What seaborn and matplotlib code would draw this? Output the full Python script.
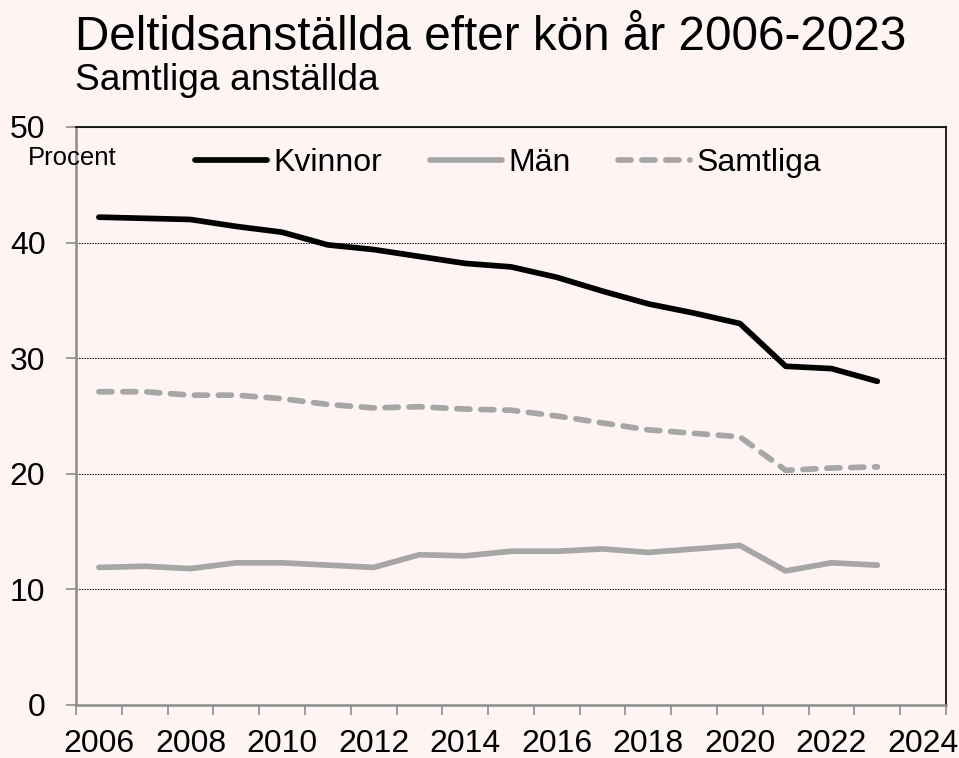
import numpy as np
import pandas as pd
import seaborn as sns
import matplotlib.pyplot as plt
from matplotlib.ticker import FixedLocator, NullFormatter

# Data -------------------------------------------------------------------------
ar = list(range(2006, 2024))
kvinnor = [42.2, 42.1, 42.0, 41.4, 40.9, 39.8, 39.4, 38.8, 38.2, 37.9,
           37.0, 35.8, 34.7, 33.9, 33.0, 29.3, 29.1, 28.0]
man = [11.9, 12.0, 11.8, 12.3, 12.3, 12.1, 11.9, 13.0, 12.9, 13.3,
       13.3, 13.5, 13.2, 13.5, 13.8, 11.6, 12.3, 12.1]
samtliga = [27.1, 27.1, 26.8, 26.8, 26.5, 26.0, 25.7, 25.8, 25.6, 25.5,
            25.0, 24.4, 23.8, 23.5, 23.2, 20.3, 20.5, 20.6]
serier = ["Kvinnor", "Män", "Samtliga"]
tick_ar = list(range(2006, 2025, 2))

# Tabell i långt format ----------------------------------------------------------
df = pd.DataFrame({
    "År": ar * 3,
    "Procent": kvinnor + man + samtliga,
    "Serie": [s for s in serier for _ in ar],
})

BG = "#fef4f3"
plt.rcParams["font.family"] = ["Liberation Sans", "DejaVu Sans"]

fig = plt.figure(figsize=(9.59, 7.58), dpi=100, facecolor=BG)
ax = fig.add_axes([76 / 959, 53 / 758, 870 / 959, 578 / 758], facecolor=BG)

sns.lineplot(data=df, x="År", y="Procent", hue="Serie", style="Serie",
             palette={"Kvinnor": "black", "Män": "#a6a6a6", "Samtliga": "#a6a6a6"},
             dashes={"Kvinnor": "", "Män": "", "Samtliga": (2.3, 1.9)},
             linewidth=4.1, solid_capstyle="round", dash_capstyle="round",
             solid_joinstyle="round", ax=ax)

# Axlar --------------------------------------------------------------------------
ax.set_xlim(2005.5, 2024.5)
ax.set_ylim(0, 50)
ax.set_xlabel("")
ax.set_ylabel("")
ax.xaxis.set_major_locator(FixedLocator(np.arange(2005.5, 2025, 1)))
ax.xaxis.set_major_formatter(NullFormatter())
ax.xaxis.set_minor_locator(FixedLocator(tick_ar))
ax.set_xticklabels([str(a) for a in tick_ar], minor=True)
ax.tick_params(axis="x", which="major", length=7, width=1.2, color="#8c8c8c", direction="out")
ax.tick_params(axis="x", which="minor", length=0, pad=17, labelsize=23)
ax.set_yticks(range(0, 51, 10))
ax.tick_params(axis="y", length=7, width=1.2, color="#8c8c8c", pad=15, labelsize=23)

ax.grid(axis="y", color="black", linestyle=(0, (1.2, 1.2)), linewidth=0.8)
ax.set_axisbelow(True)
for side in ["left", "bottom"]:
    ax.spines[side].set_color("#8c8c8c")
    ax.spines[side].set_linewidth(1.8)
for side in ["top", "right"]:
    ax.spines[side].set_color("black")
    ax.spines[side].set_linewidth(1.2)

sns.move_legend(ax, "center left", bbox_to_anchor=(195 / 959, 1 - 163 / 758),
                bbox_transform=fig.transFigure, ncol=3, frameon=False, title=None,
                fontsize=23, handlelength=2.25, handletextpad=0.2,
                columnspacing=1.5, borderpad=0, borderaxespad=0)

# Texter -------------------------------------------------------------------------
fig.text(75 / 959, 1 - 50 / 758, "Deltidsanställda efter kön år 2006-2023",
         fontsize=34.3, va="baseline", ha="left")
fig.text(75 / 959, 1 - 90 / 758, "Samtliga anställda",
         fontsize=26.7, va="baseline", ha="left")
fig.text(28 / 959, 1 - 158 / 758, "Procent", fontsize=18.5, va="center", ha="left")

fig.savefig("out.png", dpi=100, facecolor=BG)
